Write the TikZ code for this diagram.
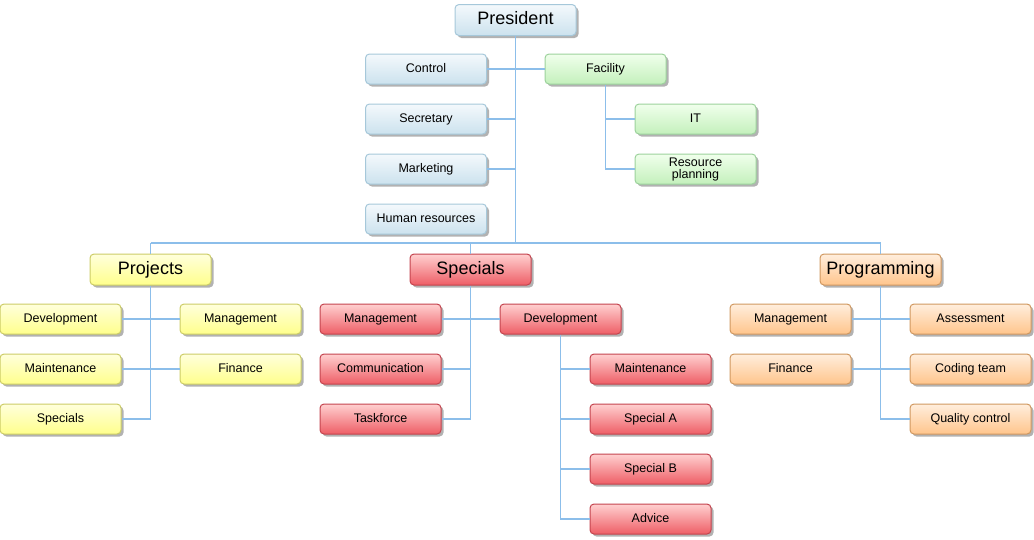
\documentclass[tikz,border=0pt]{standalone}
\usepackage{fontspec}
\setmainfont{Liberation Sans}
\usetikzlibrary{shadows}
\definecolor{linkc}{HTML}{8CBEEA}
\definecolor{bB}{HTML}{A6C8DA}\definecolor{bT}{HTML}{F4F9FC}\definecolor{bBot}{HTML}{CCE2EE}
\definecolor{gB}{HTML}{9CD29C}\definecolor{gT}{HTML}{F0FFEC}\definecolor{gBot}{HTML}{C4F0BC}
\definecolor{yB}{HTML}{CCCC66}\definecolor{yT}{HTML}{FFFFDC}\definecolor{yBot}{HTML}{FFFF8C}
\definecolor{rB}{HTML}{C4444E}\definecolor{rT}{HTML}{FFD0D0}\definecolor{rBot}{HTML}{EE5E66}
\definecolor{oB}{HTML}{D09860}\definecolor{oT}{HTML}{FFEEDD}\definecolor{oBot}{HTML}{FFC58C}
\begin{document}
\begin{tikzpicture}[x=1pt,y=-1pt,
  box/.style={draw, rounded corners=4pt, line width=1pt, minimum width=121pt, minimum height=30pt,
    inner sep=0pt, align=center, font=\fontsize{12.5}{12}\selectfont, text height=9pt, text depth=3pt,
    drop shadow={shadow xshift=2.5pt,shadow yshift=-2.5pt,fill=black,opacity=0.3}},
  big/.style={box, minimum height=31pt, font=\fontsize{18}{18}\selectfont, text height=13pt, text depth=4pt},
  twoline/.style={text height=, text depth=},
  bluebox/.style={draw=bB, top color=bT, bottom color=bBot},
  greenbox/.style={draw=gB, top color=gT, bottom color=gBot},
  yellowbox/.style={draw=yB, top color=yT, bottom color=yBot},
  redbox/.style={draw=rB, top color=rT, bottom color=rBot},
  orangebox/.style={draw=oB, top color=oT, bottom color=oBot},
  link/.style={draw=linkc, line width=1.5pt}
]
\useasboundingbox (0,0) rectangle (1034,539);
% top
\node[big,bluebox] (pres) at (515.5,20) {President};
\node[box,bluebox] (control) at (426,69) {Control};
\node[box,bluebox] (secretary) at (426,119) {Secretary};
\node[box,bluebox] (marketing) at (426,169) {Marketing};
\node[box,bluebox] (hr) at (426,219) {Human resources};
\node[box,greenbox] (facility) at (605.5,69) {Facility};
\node[box,greenbox] (it) at (695.5,119) {IT};
\node[box,greenbox,twoline] (res) at (695.5,169) {Resource\\planning};
% level 2
\node[big,yellowbox] (projects) at (150.5,269.5) {Projects};
\node[big,redbox] (specials) at (470.5,269.5) {Specials};
\node[big,orangebox] (prog) at (880.5,269.5) {Programming};
% projects
\node[box,yellowbox] (pdev) at (60.5,319) {Development};
\node[box,yellowbox] (pmgmt) at (240.5,319) {Management};
\node[box,yellowbox] (pmaint) at (60.5,369) {Maintenance};
\node[box,yellowbox] (pfin) at (240.5,369) {Finance};
\node[box,yellowbox] (pspec) at (60.5,419) {Specials};
% specials
\node[box,redbox] (smgmt) at (380.5,319) {Management};
\node[box,redbox] (sdev) at (560.5,319) {Development};
\node[box,redbox] (scomm) at (380.5,369) {Communication};
\node[box,redbox] (stask) at (380.5,419) {Taskforce};
\node[box,redbox] (smaint) at (650.5,369) {Maintenance};
\node[box,redbox] (sa) at (650.5,419) {Special A};
\node[box,redbox] (sb) at (650.5,469) {Special B};
\node[box,redbox] (sadv) at (650.5,519) {Advice};
% programming
\node[box,orangebox] (gmgmt) at (790.5,319) {Management};
\node[box,orangebox] (gass) at (970.5,319) {Assessment};
\node[box,orangebox] (gfin) at (790.5,369) {Finance};
\node[box,orangebox] (gcode) at (970.5,369) {Coding team};
\node[box,orangebox] (gqc) at (970.5,419) {Quality control};
% connectors
\coordinate (hub) at (515.5,243);
\coordinate (hl) at (150.5,243);
\coordinate (hr) at (880.5,243);
\draw[link] (pres.south) -- (hub);
\draw[link] (hl) -- (hr);
\draw[link] (hl) -- (projects.north);
\draw[link] (hr) -- (prog.north);
\draw[link] (specials.north |- hub) -- (specials.north);
\draw[link] (control.east) -- (facility.west);
\draw[link] (secretary.east) -- (secretary.east -| hub);
\draw[link] (marketing.east) -- (marketing.east -| hub);
\draw[link] (hr.east) -- (hr.east -| hub);
\draw[link] (facility.south) |- (res.west);
\draw[link] (it.west) -- (it.west -| facility.south);
% projects
\draw[link] (projects.south) |- (pspec.east);
\draw[link] (pdev.east) -- (pmgmt.west);
\draw[link] (pmaint.east) -- (pfin.west);
% specials
\draw[link] (specials.south) |- (stask.east);
\draw[link] (smgmt.east) -- (sdev.west);
\draw[link] (scomm.east) -- (scomm.east -| specials.south);
\draw[link] (sdev.south) |- (sadv.west);
\draw[link] (smaint.west) -- (smaint.west -| sdev.south);
\draw[link] (sa.west) -- (sa.west -| sdev.south);
\draw[link] (sb.west) -- (sb.west -| sdev.south);
% programming
\draw[link] (prog.south) |- (gqc.west);
\draw[link] (gmgmt.east) -- (gass.west);
\draw[link] (gfin.east) -- (gcode.west);
\end{tikzpicture}
\end{document}
